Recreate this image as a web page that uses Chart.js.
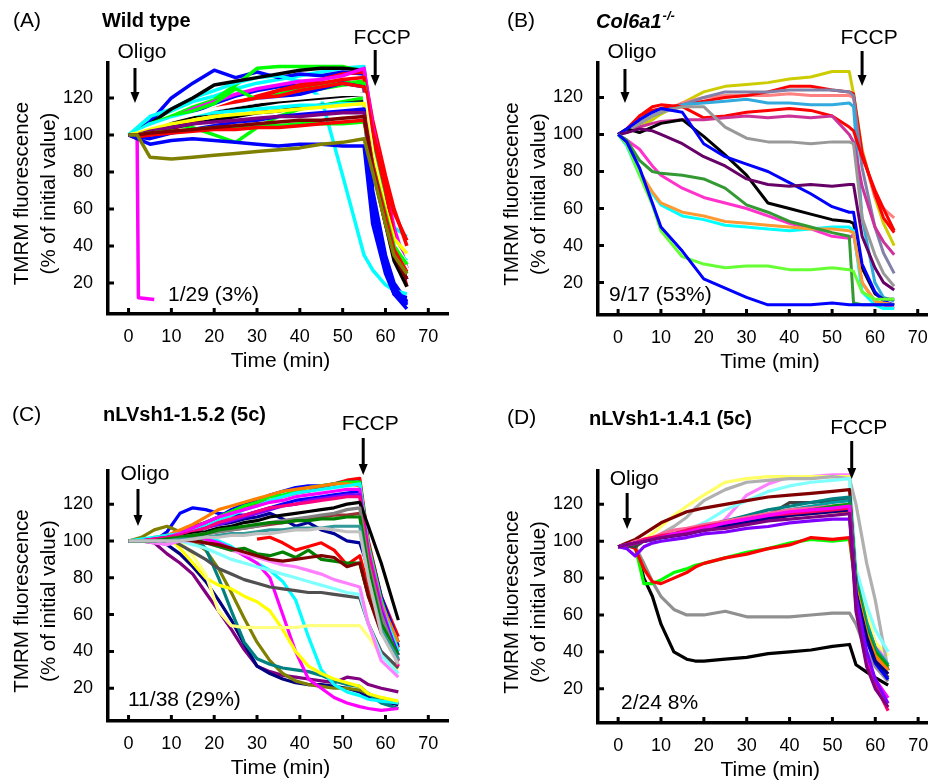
<!DOCTYPE html>
<html>
<head>
<meta charset="utf-8">
<script src="https://cdn.jsdelivr.net/npm/chart.js@4.4.0/dist/chart.umd.min.js"></script>
<style>
  body { margin: 0; background: #fff; }
  #wrap { position: relative; width: 928px; height: 782px; }
  canvas { position: absolute; }
</style>
</head>
<body>
<div id="wrap">
  <canvas id="cA" width="464" height="391" style="left:0;top:0"></canvas>
  <canvas id="cB" width="464" height="391" style="left:464px;top:0"></canvas>
  <canvas id="cC" width="464" height="391" style="left:0;top:391px"></canvas>
  <canvas id="cD" width="464" height="391" style="left:464px;top:391px"></canvas>
</div>
<script>
const FONT = "'Liberation Sans', Arial, Helvetica, sans-serif";

// shared axis ticks
const xTicks = [0, 10, 20, 30, 40, 50, 60, 70];
const yTicks = [20, 40, 60, 80, 100, 120];

// (A) wild type
const timeA = [0, 2, 5, 10, 15, 20, 25, 30, 35, 40, 45, 50, 55, 57, 60, 62, 65];
const colorsA = ['#808000', '#0000ff', '#800000', '#ff0000', '#00ff00', '#800080', '#0000ff', '#ffff00',
  '#ffffff', '#00ffff', '#000000', '#00ff00', '#000000', '#ff0000', '#ffffff', '#0000ff', '#00ff00',
  '#ff0000', '#ff00ff', '#ff0000', '#00ff00', '#0000ff', '#000000', '#00ffff', '#00ff00', '#0000ff', '#00ffff'];
const valuesA = [
  [100, 100, 88, 87, 88, 89, 90, 91, 92, 93, 95, 96, 98, 80, 52, 35, 25],
  [100, 98, 95, 97, 98, 97, 96, 95, 94, 95, 95, 94, 94, 52, 25, 14, 12],
  [100, 100, 101, 102, 103, 104, 105, 106, 107, 108, 108, 109, 110, 82, 52, 35, 22],
  [100, 99, 100, 101, 102, 103, 103, 104, 104, 105, 106, 107, 108, 84, 56, 38, 26],
  [100, 100, 101, 102, 103, 104, 104, 105, 105, 106, 106, 106, 107, 84, 58, 40, 30],
  [100, 100, 102, 104, 106, 107, 108, 109, 110, 110, 111, 112, 112, 84, 55, 36, 22],
  [100, 99, 98, 101, 103, 105, 107, 108, 110, 111, 112, 113, 114, 62, 30, 17, 8],
  [100, 101, 103, 106, 108, 110, 111, 112, 113, 114, 115, 116, 117, 88, 60, 44, 36],
  [100, 101, 104, 108, 111, 114, 116, 118, 119, 120, 121, 122, 122, 90, 60, 42, 30],
  [100, 102, 106, 109, 111, 112, 113, 114, 115, 116, 116, 117, 117, 85, 55, 38, 32],
  [100, 100, 102, 104, 106, 108, 110, 112, 113, 115, 116, 117, 118, 82, 52, 32, 18],
  [100, 101, 104, 106, 104, 100, 96, 104, 110, 114, 116, 118, 120, 86, 55, 38, 25],
  [100, 100, 103, 107, 110, 112, 114, 116, 118, 119, 120, 121, 122, 84, 55, 36, 22],
  [100, 101, 104, 106, 110, 114, 118, 120, 121, 124, 126, 128, 126, 102, 75, 58, 43],
  [100, 101, 103, 106, 109, 112, 114, 116, 117, 118, 119, 119, 120, 88, 58, 40, 28],
  [100, 100, 103, 106, 110, 113, 116, 118, 120, 122, 125, 128, 126, 65, 32, 18, 9],
  [100, 102, 106, 110, 113, 117, 125, 119, 121, 123, 125, 127, 128, 90, 58, 42, 30],
  [100, 99, 101, 104, 108, 112, 117, 121, 124, 126, 128, 130, 131, 100, 70, 45, 18],
  [100, 101, 104, 109, 114, 118, 122, 125, 127, 129, 130, 132, 136, 105, 72, 50, 28],
  [100, 98, 100, 103, 107, 111, 115, 120, 124, 127, 130, 133, 134, 108, 78, 60, 40],
  [100, 101, 103, 107, 110, 113, 116, 119, 122, 125, 127, 128, 129, 92, 60, 45, 28],
  [100, 101, 103, 108, 112, 117, 121, 124, 126, 127, 128, 129, 127, 60, 28, 14, 6],
  [100, 101, 106, 114, 120, 127, 129, 131, 133, 135, 136, 136, 135, 88, 55, 40, 28],
  [100, 104, 110, 114, 120, 124, 128, 131, 132, 129, 120, 78, 35, 27, 19, 16, 14],
  [100, 102, 105, 110, 115, 119, 127, 136, 137, 137, 137, 137, 134, 92, 62, 45, 30],
  [100, 102, 107, 120, 128, 135, 131, 134, 131, 133, 132, 134, 133, 70, 35, 20, 10],
  [100, 103, 108, 113, 118, 121, 125, 128, 130, 132, 134, 136, 137, 95, 65, 50, 45]
];
// the one wild-type cell that depolarised right after oligomycin
const timeLostA = [0, 2, 2.3, 6];
const valuesLostA = [100, 100, 12, 11];

// (B) Col6a1-/-
const timeB = [0, 2, 5, 8, 10, 15, 20, 25, 30, 35, 40, 45, 50, 54, 55, 57, 60, 62, 64.5];
const colorsB = ['#0000ff', '#66ff33', '#339933', '#ff9933', '#00ffff', '#ff33cc', '#660066', '#0000ff',
  '#000000', '#999999', '#cc3399', '#ff0000', '#33aadd', '#8080a8', '#ff0000', '#ff8080', '#cccc00'];
const valuesB = [
  [100, 96, 82, 63, 50, 37, 22, 17, 12, 8, 8, 8, 9, 8, 8, 8, 8, 8, 8],
  [100, 95, 78, 62, 48, 34, 30, 28, 29, 29, 27, 27, 28, 27, 26, 15, 11, 11, 11],
  [100, 97, 86, 80, 79, 78, 76, 71, 62, 58, 53, 50, 47, 45, 9, 8, 8, 8, 8],
  [100, 95, 80, 69, 63, 58, 56, 53, 52, 51, 50, 49, 49, 48, 47, 20, 10, 9, 8],
  [100, 94, 78, 68, 62, 56, 54, 51, 50, 49, 48, 49, 50, 50, 48, 15, 8, 6, 6],
  [100, 97, 92, 83, 78, 71, 66, 63, 60, 56, 52, 49, 45, 44, 46, 20, 10, 8, 6],
  [100, 101, 103, 102, 100, 95, 88, 83, 76, 73, 72, 73, 72, 73, 73, 45, 28, 20, 16],
  [100, 103, 108, 112, 114, 112, 95, 88, 84, 80, 74, 68, 61, 58, 58, 30, 15, 10, 8],
  [100, 103, 101, 104, 106, 108, 99, 89, 78, 63, 60, 57, 54, 53, 52, 28, 14, 11, 11],
  [100, 102, 106, 110, 112, 115, 115, 104, 98, 96, 96, 95, 96, 96, 95, 55, 35, 25, 18],
  [100, 101, 104, 106, 107, 108, 108, 109, 110, 109, 110, 109, 110, 100, 96, 72, 50, 42, 35],
  [100, 102, 110, 115, 116, 115, 109, 110, 112, 113, 114, 113, 110, 104, 102, 88, 70, 60, 48],
  [100, 102, 106, 110, 112, 116, 117, 118, 119, 117, 117, 116, 116, 117, 115, 55, 20, 12, 10],
  [100, 102, 106, 110, 112, 116, 120, 123, 123, 123, 124, 124, 124, 123, 121, 82, 50, 36, 25],
  [100, 103, 110, 113, 114, 116, 118, 120, 121, 123, 126, 126, 124, 123, 122, 90, 68, 55, 47],
  [100, 102, 106, 110, 112, 117, 120, 121, 121, 121, 122, 121, 121, 121, 120, 91, 66, 60, 55],
  [100, 102, 104, 108, 111, 117, 123, 126, 127, 128, 130, 131, 134, 134, 122, 92, 66, 52, 40]
];

// (C) nLVsh1-1.5.2 (5c)
const timeC = [0, 3, 6, 9, 12, 15, 18, 21, 24, 27, 30, 33, 36, 39, 42, 45, 48, 51, 54, 56, 59, 63];
const colorsC = ['#c0c0c0', '#339999', '#008000', '#808080', '#993333', '#000000', '#ff0080', '#8000ff',
  '#ff00ff', '#00ffff', '#ff8000', '#00ff00', '#0000ff', '#ff0000', '#800000', '#008000', '#ff0000',
  '#ff80ff', '#80ffff', '#505050', '#ffff80', '#000099', '#ffff00', '#ff00ff', '#00ffff', '#008080',
  '#808000', '#000080', '#800080', '#0000ff'];
const valuesC = [
  [100, 100, 100, 100, 100, 101, 102, 102, 103, 103, 104, 104, 105, 106, 106, 107, 106, 105, 105, 80, 50, 33],
  [100, 100, 100, 100, 101, 101, 102, 103, 104, 104, 105, 106, 106, 107, 107, 107, 108, 108, 108, 80, 52, 36],
  [100, 100, 100, 101, 102, 103, 104, 106, 107, 108, 109, 110, 110, 111, 111, 112, 112, 113, 113, 85, 55, 38],
  [100, 100, 100, 101, 102, 103, 104, 105, 106, 107, 108, 110, 111, 112, 113, 114, 115, 117, 118, 88, 60, 35],
  [100, 100, 100, 101, 102, 103, 104, 105, 106, 107, 108, 109, 110, 111, 112, 113, 114, 114, 115, 85, 55, 35],
  [100, 100, 100, 101, 102, 104, 105, 107, 108, 110, 111, 113, 114, 115, 116, 117, 118, 120, 121, 108, 88, 57],
  [100, 100, 101, 102, 103, 105, 107, 110, 112, 114, 116, 118, 119, 120, 121, 122, 123, 124, 124, 92, 60, 32],
  [100, 100, 101, 102, 103, 105, 107, 109, 111, 113, 115, 117, 119, 120, 122, 123, 124, 125, 125, 92, 62, 38],
  [100, 100, 101, 102, 104, 107, 110, 113, 115, 117, 119, 121, 122, 124, 125, 126, 127, 128, 128, 95, 65, 35],
  [100, 101, 102, 103, 104, 106, 108, 111, 114, 117, 119, 122, 124, 126, 127, 128, 129, 130, 131, 96, 65, 40],
  [100, 100, 102, 103, 106, 109, 113, 117, 119, 121, 123, 125, 127, 128, 129, 130, 131, 131, 130, 96, 66, 45],
  [100, 100, 101, 102, 104, 107, 110, 113, 116, 119, 121, 124, 125, 127, 129, 130, 131, 132, 132, 98, 68, 40],
  [100, 100, 101, 102, 104, 107, 110, 113, 117, 120, 122, 125, 127, 129, 130, 130, 131, 132, 132, 98, 70, 45],
  [100, 100, 101, 103, 105, 108, 110, 113, 116, 118, 120, 122, 124, 126, 127, 129, 131, 133, 134, 100, 70, 48],
  [100, 100, 100, 101, 101, 100, 99, 98, 96, 94, 92, 90, 89, 90, 91, 92, 91, 86, 88, 70, 50, 38],
  [100, 100, 101, 103, 102, 101, 99, 97, 95, 96, 93, 92, 94, 91, 95, 90, 89, 88, 88, 70, 52, 40],
  [null, null, null, null, null, null, null, null, null, null, 101, 102, 99, 95, 97, 99, 95, 87, 92, 75, 55, 42],
  [100, 100, 99, 98, 100, 100, 99, 97, 95, 93, 91, 89, 87, 86, 84, 82, 79, 77, 75, 55, 35, 26],
  [100, 100, 100, 101, 100, 98, 96, 93, 90, 88, 86, 84, 82, 80, 78, 76, 74, 72, 71, 55, 38, 28],
  [100, 100, 100, 102, 98, 94, 90, 85, 82, 79, 77, 75, 74, 73, 72, 72, 71, 70, 69, 55, 40, 31],
  [100, 100, 101, 103, 100, 92, 82, 62, 54, 53, 53, 53, 53, 53, 54, 54, 54, 54, 54, 48, 38, 30],
  [100, 100, 100, 102, 104, 106, 108, 109, 110, 112, 113, 115, 112, 108, 110, 106, 104, 100, 99, 85, 62, 42],
  [100, 100, 101, 103, 96, 88, 80, 76, 74, 70, 67, 62, 52, 40, 32, 28, 25, 23, 21, 17, 15, 13],
  [100, 100, 100, 101, 102, 102, 101, 99, 96, 92, 88, 80, 60, 40, 25, 20, 15, 12, 10, 9, 8, 9],
  [100, 100, 101, 102, 103, 103, 102, 100, 97, 92, 88, 84, 78, 68, 48, 30, 22, 18, 16, 14, 13, 12],
  [100, 100, 101, 103, 104, 103, 96, 80, 62, 45, 36, 33, 31, 30, 29, 27, 24, 22, 21, 17, 12, 9],
  [100, 102, 106, 108, 105, 100, 95, 85, 72, 58, 45, 35, 28, 24, 22, 21, 20, 20, 19, 17, 14, 12],
  [100, 100, 100, 98, 93, 86, 78, 68, 57, 44, 32, 28, 25, 23, 22, 22, 21, 20, 18, 15, 13, 11],
  [100, 100, 99, 93, 88, 82, 72, 62, 52, 41, 32, 29, 27, 26, 25, 24, 23, 26, 25, 22, 20, 18],
  [100, 100, 100, 105, 115, 118, 117, 115, 114, 114, 116, 118, 120, 122, 123, 124, 125, 126, 127, 92, 65, 43]
];

// (D) nLVsh1-1.4.1 (5c)
const timeD = [0, 2, 4, 6, 8, 10, 13, 16, 18, 20, 25, 30, 35, 40, 45, 50, 54, 55.5, 58, 60, 63];
const colorsD = ['#800080', '#8000ff', '#ff00ff', '#ff0066', '#000080', '#0000ff', '#ff8000', '#00a000',
  '#ff6699', '#008080', '#00a0a0', '#800000', '#80ffff', '#b0b0b0', '#ffff66', '#ff80ff', '#404040',
  '#ff0000', '#00ff00', '#909090', '#000000'];
const valuesD = [
  [97, 98, 99, 100, 101, 102, 103, 104, 105, 106, 107, 109, 111, 112, 113, 114, 115, 62, 32, 20, 10],
  [97, 96, 92, 97, 99, 100, 101, 102, 103, 104, 105, 107, 108, 110, 111, 112, 112, 70, 40, 25, 12],
  [97, 98, 99, 100, 101, 102, 104, 105, 106, 107, 110, 112, 114, 116, 117, 118, 119, 66, 38, 25, 15],
  [97, 98, 99, 101, 102, 103, 104, 106, 107, 108, 110, 112, 114, 115, 116, 117, 118, 65, 35, 22, 8],
  [97, 98, 99, 100, 101, 102, 103, 104, 105, 106, 108, 110, 112, 114, 115, 116, 117, 72, 48, 35, 28],
  [97, 98, 99, 100, 101, 102, 103, 104, 105, 106, 109, 111, 113, 115, 116, 117, 118, 72, 46, 34, 25],
  [97, 98, 99, 100, 101, 102, 103, 104, 105, 106, 108, 110, 112, 114, 115, 116, 116, 75, 50, 38, 30],
  [97, 98, 99, 100, 101, 102, 103, 105, 106, 107, 109, 111, 113, 115, 117, 119, 120, 78, 52, 40, 32],
  [97, 98, 100, 101, 102, 104, 106, 107, 108, 109, 111, 113, 115, 117, 118, 119, 120, 76, 50, 36, 28],
  [97, 98, 99, 100, 101, 102, 104, 106, 107, 108, 111, 114, 117, 119, 121, 123, 124, 76, 52, 40, 30],
  [97, 98, 99, 100, 101, 102, 104, 106, 107, 108, 111, 113, 115, 117, 119, 121, 122, 80, 56, 42, 33],
  [97, 99, 101, 104, 107, 110, 113, 116, 117, 118, 120, 122, 124, 125, 126, 127, 128, 78, 55, 42, 30],
  [97, 98, 99, 100, 100, 101, 103, 105, 108, 110, 117, 122, 127, 130, 132, 133, 134, 85, 65, 52, 40],
  [97, 98, 99, 100, 101, 104, 108, 113, 118, 122, 128, 132, 133, 134, 134, 135, 134, 120, 88, 68, 30],
  [97, 98, 99, 101, 104, 108, 114, 119, 122, 125, 132, 134, 135, 135, 135, 135, 135, 82, 60, 45, 38],
  [97, 98, 99, 100, 100, 101, 102, 103, 103, 104, 112, 125, 131, 135, 135, 136, 136, 80, 58, 45, 32],
  [97, 97, 97, 100, 102, 102, 101, 104, 106, 106, 108, 111, 114, 121, 121, 122, 123, 75, 48, 36, 26],
  [97, 98, 96, 85, 78, 77, 80, 83, 86, 88, 91, 93, 96, 98, 102, 101, 102, 74, 56, 44, 32],
  [97, 98, 97, 77, 77, 79, 83, 85, 87, 88, 91, 94, 96, 99, 101, 100, 101, 72, 55, 42, 30],
  [97, 98, 97, 88, 78, 70, 63, 60, 60, 60, 62, 59, 59, 59, 60, 61, 61, 55, 40, 32, 24],
  [97, 98, 98, 80, 70, 55, 40, 36, 35, 35, 36, 37, 39, 40, 41, 43, 44, 33, 29, 26, 22]
];

// labels, arrows and inward tick marks
const panelDecor = {
  id: 'panelDecor',
  afterDraw(chart, args, o) {
    const ctx = chart.ctx;
    const a = chart.chartArea;
    const x = chart.scales.x, y = chart.scales.y;
    ctx.save();
    ctx.fillStyle = '#000';
    ctx.strokeStyle = '#000';

    ctx.lineWidth = 3;
    ctx.beginPath();
    xTicks.forEach(v => {
      const p = x.getPixelForValue(v);
      ctx.moveTo(p, a.bottom);
      ctx.lineTo(p, a.bottom - 6);
    });
    yTicks.forEach(v => {
      const p = y.getPixelForValue(v);
      ctx.moveTo(a.left, p);
      ctx.lineTo(a.left + 6, p);
    });
    ctx.stroke();

    ctx.textBaseline = 'alphabetic';
    ctx.textAlign = 'left';
    ctx.font = '21px ' + FONT;
    ctx.fillText(o.letter, o.letterX, o.letterY);
    ctx.fillText(o.count, o.countX, o.countY);

    ctx.font = o.titleStyle + ' 20px ' + FONT;
    ctx.fillText(o.title, o.titleX, o.titleY);
    if (o.sup) {
      const w = ctx.measureText(o.title).width;
      ctx.font = o.titleStyle + ' 13px ' + FONT;
      ctx.fillText(o.sup, o.titleX + w + 1, o.titleY - 8);
    }

    ctx.font = '21px ' + FONT;
    ctx.textAlign = 'center';
    const marks = [['Oligo', o.oligo], ['FCCP', o.fccp]];
    marks.forEach(([txt, m]) => {
      const px = x.getPixelForValue(m.t);
      ctx.fillText(txt, px + 7, m.textY);
      ctx.lineWidth = 3;
      ctx.beginPath();
      ctx.moveTo(px, m.top);
      ctx.lineTo(px, m.tip - 8);
      ctx.stroke();
      ctx.beginPath();
      ctx.moveTo(px - 4.5, m.tip - 11);
      ctx.lineTo(px + 4.5, m.tip - 11);
      ctx.lineTo(px, m.tip);
      ctx.closePath();
      ctx.fill();
    });

    ctx.fillText('Time (min)', x.getPixelForValue(35.5), a.bottom + 53);

    ctx.font = '20.5px ' + FONT;
    ctx.textBaseline = 'middle';
    const cy = (a.top + a.bottom) / 2 + 5;
    [['TMRM fluorescence', 86], ['(% of initial value)', 59]].forEach(([txt, dx]) => {
      ctx.save();
      ctx.translate(a.left - dx, cy);
      ctx.rotate(-Math.PI / 2);
      ctx.fillText(txt, 0, 0);
      ctx.restore();
    });
    ctx.restore();
  }
};

function makePanel(id, p) {
  const datasets = p.values.map((vals, i) => ({
    data: vals.map((v, j) => ({ x: p.time[j], y: v })),
    borderColor: p.colors[i]
  }));
  (p.extra || []).forEach(e => {
    datasets.push({ data: e.values.map((v, j) => ({ x: e.time[j], y: v })), borderColor: e.color });
  });
  datasets.forEach(d => {
    d.borderWidth = p.lineWidth;
    d.pointRadius = 0;
    d.tension = 0;
    d.fill = false;
    d.borderJoinStyle = 'round';
  });

  const tickFont = { family: FONT, size: 18 };
  new Chart(document.getElementById(id), {
    type: 'line',
    data: { datasets },
    options: {
      responsive: false,
      animation: false,
      events: [],
      layout: { padding: { top: p.top, right: p.right, left: 0, bottom: 0 } },
      plugins: { legend: { display: false }, tooltip: { enabled: false }, panelDecor: p.decor },
      scales: {
        x: {
          type: 'linear', min: p.xMin, max: p.xMax,
          afterBuildTicks: s => { s.ticks = xTicks.map(v => ({ value: v })); },
          afterFit: s => { s.height = p.xHeight; s.paddingLeft = 0; s.paddingRight = 0; },
          grid: { display: false },
          border: { color: '#000', width: 3.5 },
          ticks: { color: '#000', font: tickFont, padding: 4, maxRotation: 0, autoSkip: false }
        },
        y: {
          type: 'linear', min: p.yMin, max: p.yMax,
          afterBuildTicks: s => { s.ticks = yTicks.map(v => ({ value: v })); },
          afterFit: s => { s.width = p.yWidth; s.paddingTop = 0; s.paddingBottom = 0; },
          grid: { display: false },
          border: { color: '#000', width: 3.5 },
          ticks: { color: '#000', font: tickFont, padding: 7 }
        }
      }
    },
    plugins: [panelDecor]
  });
}

makePanel('cA', {
  time: timeA, values: valuesA, colors: colorsA, lineWidth: 3.5,
  extra: [{ time: timeLostA, values: valuesLostA, color: '#ff00ff' }],
  top: 63, right: 16, xHeight: 77, yWidth: 108,
  xMin: -4.8, xMax: 74.6, yMin: 3.2, yMax: 138.9,
  decor: {
    letter: '(A)', letterX: 13, letterY: 27,
    title: 'Wild type', titleStyle: 'bold', titleX: 102, titleY: 27,
    count: '1/29 (3%)', countX: 168, countY: 301,
    oligo: { t: 1.5, textY: 58, top: 68, tip: 103 },
    fccp: { t: 57.6, textY: 44, top: 50, tip: 86 }
  }
});

makePanel('cB', {
  time: timeB, values: valuesB, colors: colorsB, lineWidth: 3,
  top: 63, right: 0, xHeight: 76, yWidth: 134,
  xMin: -4.7, xMax: 72.4, yMin: 2.5, yMax: 138.6,
  decor: {
    letter: '(B)', letterX: 43, letterY: 27,
    title: 'Col6a1', titleStyle: 'italic bold', titleX: 132, titleY: 28, sup: '-/-',
    count: '9/17 (53%)', countX: 145, countY: 301,
    oligo: { t: 1.6, textY: 58, top: 69, tip: 103 },
    fccp: { t: 57, textY: 44, top: 51, tip: 86 }
  }
});

makePanel('cC', {
  time: timeC, values: valuesC, colors: colorsC, lineWidth: 3.2,
  top: 80, right: 16, xHeight: 61, yWidth: 108,
  xMin: -4.8, xMax: 74.6, yMin: 2.2, yMax: 138,
  decor: {
    letter: '(C)', letterX: 12, letterY: 30,
    title: 'nLVsh1-1.5.2 (5c)', titleStyle: 'bold', titleX: 103, titleY: 30,
    count: '11/38 (29%)', countX: 128, countY: 315,
    oligo: { t: 2.2, textY: 89, top: 98, tip: 135 },
    fccp: { t: 54.8, textY: 39, top: 47, tip: 84 }
  }
});

makePanel('cD', {
  time: timeD, values: valuesD, colors: colorsD, lineWidth: 3.2,
  top: 80, right: 0, xHeight: 59, yWidth: 134,
  xMin: -4.7, xMax: 72.3, yMin: 1.4, yMax: 138.1,
  decor: {
    letter: '(D)', letterX: 43, letterY: 33,
    title: 'nLVsh1-1.4.1 (5c)', titleStyle: 'bold', titleX: 125, titleY: 34,
    count: '2/24 8%', countX: 157, countY: 318,
    oligo: { t: 2.1, textY: 94, top: 102, tip: 138 },
    fccp: { t: 54.5, textY: 43, top: 50, tip: 88 }
  }
});
</script>
</body>
</html>
